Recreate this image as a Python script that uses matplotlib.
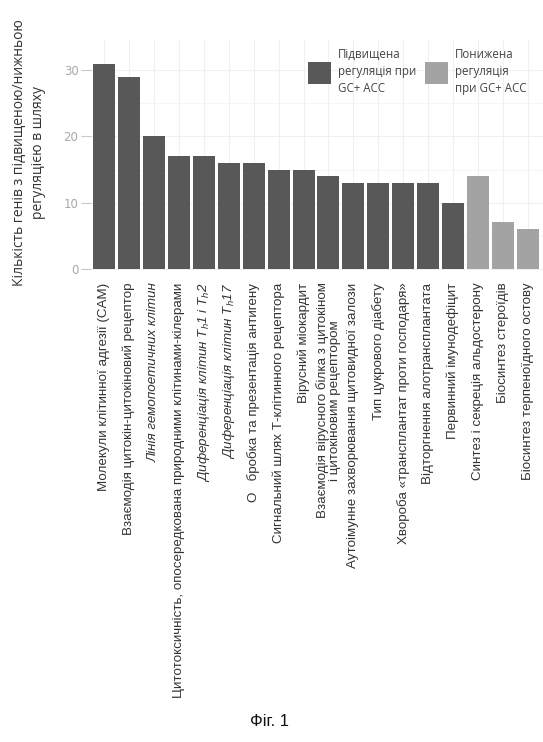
import matplotlib.pyplot as plt
from matplotlib.patches import Patch
from matplotlib.ticker import MultipleLocator

# назви шляхів (підписи осі x)
pathways = [
    "Молекули клітинної адгезії (CAM)",
    "Взаємодія цитокін-цитокіновий рецептор",
    "Лінія гемопоетичних клітин",
    "Цитотоксичність, опосередкована природними клітинами-кілерами",
    r"Диференціація клітин T$_\mathregular{h}$1 і T$_\mathregular{h}$2",
    r"Диференціація клітин T$_\mathregular{h}$17",
    "О   бробка та презентація антигену",
    "Сигнальний шлях Т-клітинного рецептора",
    "Вірусний міокардит",
    "Взаємодія вірусного білка з цитокіном\nі цитокіновим рецептором",
    "Аутоімунне захворювання щитовидної залози",
    "Тип цукрового діабету",
    "Хвороба «трансплантат проти господаря»",
    "Відторгнення алотрансплантата",
    "Первинний імунодефіцит",
    "Синтез і секреція альдостерону",
    "Біосинтез стероїдів",
    "Біосинтез терпеноїдного остову",
]
gene_counts = [31, 29, 20, 17, 17, 16, 16, 15, 15, 14, 13, 13, 13, 13, 10, 14, 7, 6]
# 'up' - підвищена, 'down' - понижена
direction = ['up'] * 15 + ['down'] * 3
italic_labels = [2, 4, 5]

legend_labels = ["Підвищена\nрегуляція при\nGC+ ACC", "Понижена\nрегуляція\nпри GC+ ACC"]
colors = {'up': '#585858', 'down': '#a3a3a3'}

fig = plt.figure(figsize=(5.43, 7.42), dpi=100)
ax = fig.add_axes([91 / 543, 1 - 270 / 742, 1 - 91 / 543, 230 / 742])

x = list(range(len(pathways)))
ax.bar(x, gene_counts, width=0.88, color=[colors[d] for d in direction], zorder=2)

ax.set_xlim(-0.52, 17.6)
ax.set_ylim(-0.2, 34.6)
ax.set_yticks([0, 10, 20, 30])
ax.yaxis.set_minor_locator(MultipleLocator(5))
ax.tick_params(axis='y', which='major', length=7, width=0.8, color='#c8c8c8',
               labelcolor='#a8a8a8', labelsize=8.5, pad=2)
ax.tick_params(axis='y', which='minor', length=0)
ax.set_xticks(x)
ax.set_xticklabels(pathways, rotation=90, ha='center', va='top',
                   fontsize=9.6, family=['Liberation Sans', 'DejaVu Sans'],
                   color='#333333', linespacing=1.05)
for i in italic_labels:
    ax.get_xticklabels()[i].set_style('italic')
ax.tick_params(axis='x', length=0, pad=9)

ax.grid(True, which='major', color='#f0f0f0', linewidth=0.8, zorder=0)
ax.grid(True, which='minor', axis='y', color='#f4f4f4', linewidth=0.6, zorder=0)
for s in ax.spines.values():
    s.set_visible(False)

ax.set_ylabel("Кількість генів з підвищеною/нижньою\nрегуляцією в шляху",
              fontsize=10, family=['Open Sans', 'DejaVu Sans'], color='#333333',
              linespacing=1.3)
ax.yaxis.set_label_coords(-0.10, 0.51)

handles = [Patch(facecolor=colors['up']), Patch(facecolor=colors['down'])]
leg = fig.legend(handles, legend_labels, loc='upper left', bbox_to_anchor=(308 / 543, 1 - 48 / 742),
                 ncol=2, frameon=False, borderpad=0, borderaxespad=0,
                 handlelength=2.0, handleheight=2.6, handletextpad=0.6, columnspacing=0.75,
                 prop={'family': ['Open Sans', 'DejaVu Sans'], 'size': 8.3}, labelcolor='#444444')
for t in leg.get_texts():
    t.set_linespacing(1.4)

fig.text(270 / 543, 1 - 722 / 742, "Фіг. 1", ha='center', va='center',
         fontsize=12, family=['Liberation Sans', 'DejaVu Sans'], color='#111111')

fig.savefig('out.png', dpi=100)
